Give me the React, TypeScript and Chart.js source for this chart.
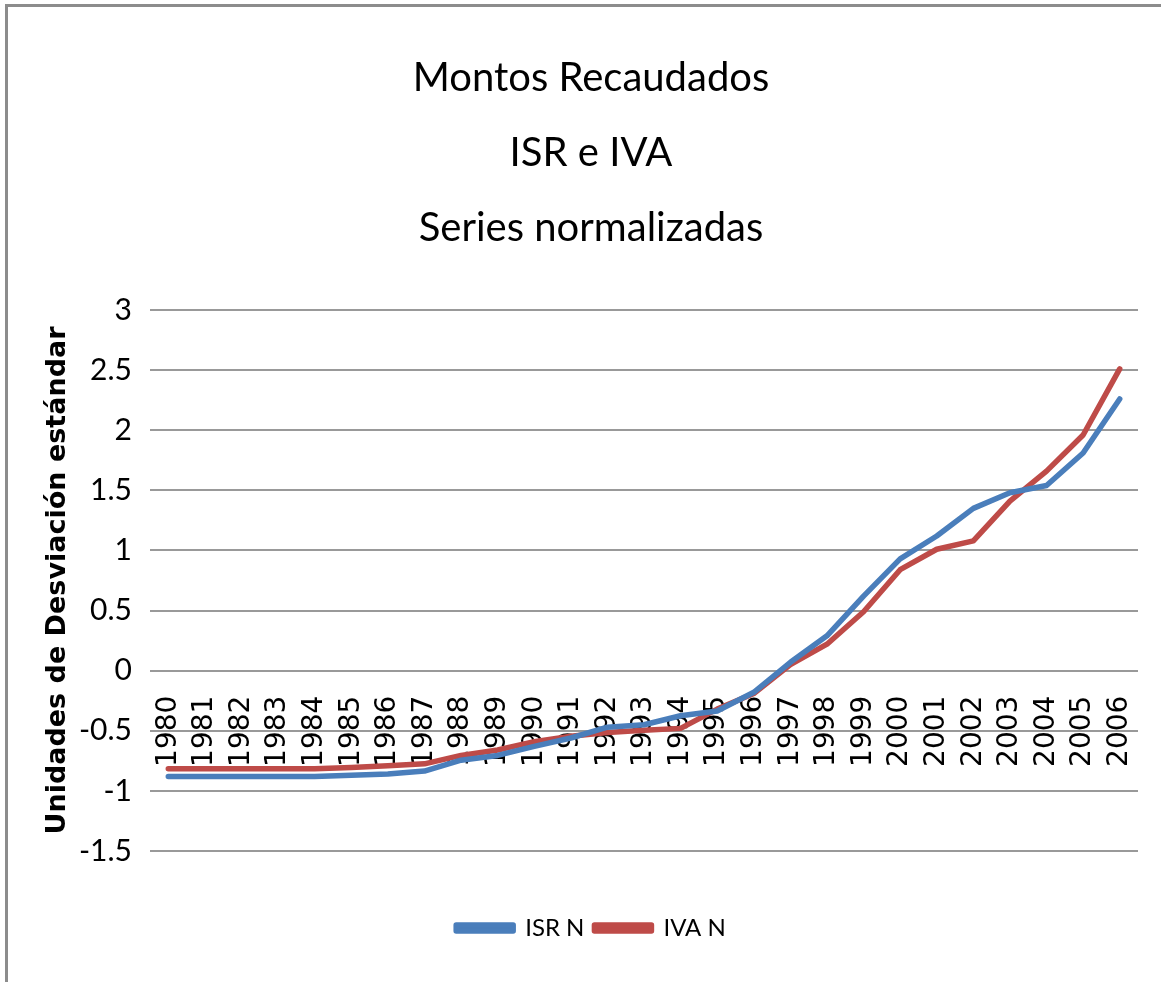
import React, { useEffect, useRef } from "react";
import { Chart, registerables } from "chart.js";

Chart.register(...registerables);

const years = [
  "1980", "1981", "1982", "1983", "1984", "1985", "1986", "1987", "1988", "1989",
  "1990", "1991", "1992", "1993", "1994", "1995", "1996", "1997", "1998", "1999",
  "2000", "2001", "2002", "2003", "2004", "2005", "2006",
];

const isrN = [
  -0.88, -0.88, -0.88, -0.88, -0.88, -0.87, -0.86, -0.835, -0.745, -0.705,
  -0.63, -0.56, -0.47, -0.45, -0.375, -0.335, -0.18, 0.07, 0.29, 0.62,
  0.93, 1.12, 1.35, 1.48, 1.54, 1.81, 2.26,
];

const ivaN = [
  -0.815, -0.815, -0.815, -0.815, -0.815, -0.805, -0.79, -0.775, -0.705, -0.66,
  -0.59, -0.545, -0.515, -0.495, -0.48, -0.32, -0.19, 0.05, 0.22, 0.49,
  0.84, 1.01, 1.08, 1.41, 1.66, 1.96, 2.51,
];

const titleLines = ["Montos Recaudados", "ISR e IVA", "Series normalizadas"];
const yAxisTitle = "Unidades de Desviación estándar";
const seriesNames = ["ISR N", "IVA N"];
const yMin = -1.5;
const yMax = 3;
const yStep = 0.5;

const CAL = "Lato, 'Liberation Sans', sans-serif";

export default function App() {
  const canvasRef = useRef<HTMLCanvasElement | null>(null);

  useEffect(() => {
    document.body.style.margin = "0";
    const canvas = canvasRef.current;
    if (!canvas) return;
    const chart = new Chart(canvas, {
      type: "line",
      data: {
        labels: years,
        datasets: [
          {
            label: seriesNames[0],
            data: isrN,
            borderColor: "#4A7EBB",
            backgroundColor: "#4A7EBB",
            borderWidth: 5.5,
            pointRadius: 0,
            tension: 0,
            borderCapStyle: "round",
            borderJoinStyle: "round",
          },
          {
            label: seriesNames[1],
            data: ivaN,
            borderColor: "#BE4B48",
            backgroundColor: "#BE4B48",
            borderWidth: 5.5,
            pointRadius: 0,
            tension: 0,
            borderCapStyle: "round",
            borderJoinStyle: "round",
          },
        ],
      },
      options: {
        animation: false,
        responsive: true,
        maintainAspectRatio: false,
        layout: { padding: { left: 36, right: 23, top: 0, bottom: 32 } },
        plugins: {
          title: {
            display: true,
            text: titleLines,
            color: "#000",
            font: { family: CAL, size: 40, weight: "normal", lineHeight: 1.875 },
            padding: { top: 34, bottom: 44 },
          },
          legend: {
            display: true,
            position: "bottom",
            labels: {
              color: "#000",
              boxWidth: 57,
              boxHeight: 6,
              padding: 10,
              font: { family: CAL, size: 24 },
            },
          },
          tooltip: { enabled: false },
        },
        scales: {
          x: {
            type: "category",
            position: { y: 0 },
            offset: true,
            grid: { display: false, drawTicks: false },
            border: { display: false },
            ticks: {
              autoSkip: false,
              maxRotation: 90,
              minRotation: 90,
              padding: 25,
              color: "#000",
              font: { family: "'DejaVu Sans', sans-serif", size: 28 },
            },
            afterFit: (s: any) => {
              s.paddingLeft = 0;
              s.paddingRight = 0;
            },
          },
          xb: {
            type: "category",
            position: "bottom",
            grid: { display: false, drawTicks: false },
            border: { display: false },
            ticks: { display: false },
            afterFit: (s: any) => {
              s.height = 55;
              s.paddingLeft = 0;
              s.paddingRight = 0;
            },
          },
          y: {
            min: yMin,
            max: yMax,
            grid: { color: "#999999", lineWidth: 2, drawTicks: false },
            border: { display: false },
            ticks: {
              stepSize: yStep,
              padding: 18,
              color: "#000",
              font: { family: CAL, size: 30 },
              callback: (v: any) => String(Number(v)),
            },
            title: {
              display: true,
              text: yAxisTitle,
              color: "#000",
              font: { family: "'DejaVu Sans', sans-serif", size: 27, weight: "bold", lineHeight: 1 },
              padding: { top: 0, bottom: 0 },
            },
            afterFit: (s: any) => {
              s.width = 106;
            },
          },
        },
      },
    });
    return () => chart.destroy();
  }, []);

  return (
    <div
      style={{
        position: "absolute",
        left: 5,
        top: 4,
        width: 1156,
        height: 978,
        borderLeft: "3px solid #8c8c8c",
        borderTop: "3px solid #8c8c8c",
        boxSizing: "border-box",
        background: "#fff",
      }}
    >
      <div style={{ position: "relative", width: 1153, height: 975 }}>
        <canvas ref={canvasRef} />
      </div>
    </div>
  );
}
